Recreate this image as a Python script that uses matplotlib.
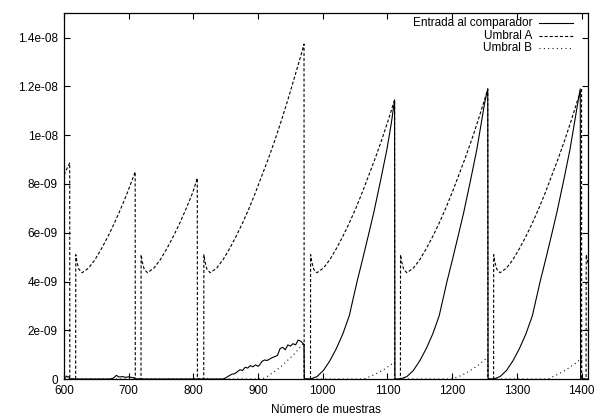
import matplotlib.pyplot as plt

plt.rcParams['font.family'] = ['Liberation Sans', 'DejaVu Sans']
plt.rcParams['font.size'] = 8.5

# values in units of 1e-9
entrada_x = [600, 602, 604, 606, 608, 609, 670, 676, 681, 685, 690, 695, 700, 705, 709, 710,
             845, 848, 852, 856, 860, 864, 868, 872, 876, 880, 884, 888, 892, 896, 900, 903,
             906, 910, 914, 918, 922, 926, 930, 934, 938, 942, 946, 950, 954, 958, 962, 966,
             971, 971.5,
             981, 991, 1001, 1011, 1021, 1031, 1041, 1053, 1061, 1071, 1079, 1089, 1099, 1106,
             1111, 1111.5,
             1120, 1130, 1140, 1150, 1160, 1170, 1180, 1192, 1200, 1210, 1218, 1228, 1238, 1245,
             1250, 1255, 1255.5,
             1264, 1274, 1284, 1294, 1304, 1314, 1324, 1336, 1344, 1354, 1362, 1372, 1382, 1389,
             1394, 1398, 1398.5, 1410]
entrada_y = [0.0, 0.05, 0.12, 0.08, 0.1, 0.0, 0.0, 0.03, 0.15, 0.08, 0.1, 0.07, 0.09, 0.06, 0.05, 0.0,
             0.0, 0.02, 0.08, 0.15, 0.2, 0.22, 0.3, 0.38, 0.35, 0.48, 0.45, 0.55, 0.5, 0.58, 0.52, 0.6,
             0.72, 0.78, 0.76, 0.82, 0.88, 0.92, 0.97, 1.25, 1.3, 1.2, 1.4, 1.35, 1.45, 1.4, 1.6, 1.55,
             1.42, 0.0,
             0.0, 0.1, 0.35, 0.75, 1.25, 1.85, 2.6, 4.0, 4.85, 5.95, 6.85, 8.1, 9.4, 10.5,
             11.45, 0.0,
             0.0, 0.1, 0.35, 0.75, 1.25, 1.85, 2.6, 4.0, 4.85, 5.95, 6.85, 8.1, 9.4, 10.5,
             11.3, 11.9, 0.0,
             0.0, 0.1, 0.35, 0.75, 1.25, 1.85, 2.6, 4.0, 4.85, 5.95, 6.85, 8.1, 9.4, 10.5,
             11.3, 11.9, 0.0, 0.0]

umbral_a_x = [600, 604, 608.8, 609, 618, 618.2,
              620, 623, 628, 638, 648, 658, 668, 678, 688, 698, 708, 710, 710.2, 719, 719.2,
              721, 724, 729, 739, 749, 759, 769, 779, 789, 799, 806, 806.2, 816, 816.2,
              818, 821, 826, 836, 846, 856, 866, 876, 886, 896, 906, 916, 926, 936, 946, 956, 966,
              971, 971.2, 981, 981.2,
              983, 986, 991, 1001, 1011, 1021, 1031, 1041, 1051, 1061, 1071, 1081, 1091, 1101,
              1111, 1111.2, 1120, 1120.2,
              1122, 1125, 1130, 1140, 1150, 1160, 1170, 1180, 1190, 1200, 1210, 1220, 1230, 1240,
              1250, 1255, 1255.2, 1264, 1264.2,
              1266, 1269, 1274, 1284, 1294, 1304, 1314, 1324, 1334, 1344, 1354, 1364, 1374, 1384,
              1394, 1400, 1400.2, 1407, 1407.2, 1410]
umbral_a_y = [8.37, 8.6, 8.86, 0.0, 0.0, 5.1,
              4.8, 4.5, 4.36, 4.55, 4.9, 5.35, 5.85, 6.4, 7.0, 7.65, 8.35, 8.5, 0.0, 0.0, 5.1,
              4.8, 4.5, 4.36, 4.55, 4.9, 5.35, 5.85, 6.4, 7.0, 7.65, 8.24, 0.0, 0.0, 5.1,
              4.8, 4.5, 4.36, 4.55, 4.9, 5.35, 5.85, 6.4, 7.0, 7.65, 8.35, 9.05, 9.8, 10.6, 11.45, 12.35, 13.25,
              13.74, 0.0, 0.0, 5.1,
              4.8, 4.5, 4.36, 4.55, 4.9, 5.35, 5.85, 6.4, 7.0, 7.65, 8.35, 9.05, 9.8, 10.6,
              11.45, 0.0, 0.0, 5.1,
              4.8, 4.5, 4.36, 4.55, 4.9, 5.35, 5.85, 6.4, 7.0, 7.65, 8.35, 9.05, 9.8, 10.6,
              11.45, 11.9, 0.0, 0.0, 5.1,
              4.8, 4.5, 4.36, 4.55, 4.9, 5.35, 5.85, 6.4, 7.0, 7.65, 8.35, 9.05, 9.8, 10.6,
              11.45, 11.9, 0.0, 0.0, 5.1, 4.75]

umbral_b_x = [600, 906, 915, 925, 935, 945, 955, 965, 971, 971.2,
              1063, 1075, 1085, 1095, 1105, 1111, 1111.2,
              1200, 1210, 1220, 1230, 1240, 1250, 1255, 1255.2,
              1348, 1360, 1370, 1380, 1390, 1400, 1400.2, 1410]
umbral_b_y = [0.0, 0.0, 0.12, 0.3, 0.5, 0.75, 1.0, 1.3, 1.5, 0.0,
              0.0, 0.12, 0.25, 0.4, 0.58, 0.7, 0.0,
              0.0, 0.1, 0.22, 0.38, 0.56, 0.78, 0.9, 0.0,
              0.0, 0.15, 0.28, 0.45, 0.63, 0.85, 0.0, 0.0]

yticks = [0, 2e-9, 4e-9, 6e-9, 8e-9, 1e-8, 1.2e-8, 1.4e-8]
ytick_labels = ['0', '2e-09', '4e-09', '6e-09', '8e-09', '1e-08', '1.2e-08', '1.4e-08']
xticks = [600, 700, 800, 900, 1000, 1100, 1200, 1300, 1400]

fig = plt.figure(figsize=(6.01, 4.17), dpi=100)
ax = fig.add_axes([0.1065, 0.0911, 0.8719, 0.8769])

sc = 1e-9
ax.plot(entrada_x, [v * sc for v in entrada_y], color='black', lw=0.8)
ax.plot(umbral_a_x, [v * sc for v in umbral_a_y], color='black', lw=0.8, dashes=(2.8, 1.8))
ax.plot(umbral_b_x, [v * sc for v in umbral_b_y], color='black', lw=0.8, dashes=(0.9, 3.0))

ax.set_xlim(600, 1410)
ax.set_ylim(0, 1.5e-8)
ax.set_xticks(xticks)
ax.set_yticks(yticks)
ax.set_yticklabels(ytick_labels)
ax.tick_params(direction='in', top=True, right=True, length=4, width=0.8, pad=4.5)
ax.tick_params(axis='x', pad=4)
for s in ax.spines.values():
    s.set_linewidth(0.9)
ax.set_xlabel('Número de muestras', labelpad=5)

# gnuplot style key, text right aligned
labels = ['Entrada al comparador', 'Umbral A', 'Umbral B']
styles = [dict(), dict(dashes=(2.8, 1.8)), dict(dashes=(0.9, 3.0))]
rows = [0.9735, 0.9393, 0.9051]
for lab, st, yy in zip(labels, styles, rows):
    ax.text(0.894, yy, lab, transform=ax.transAxes, ha='right', va='center')
    ax.plot([0.906, 0.971], [yy, yy], transform=ax.transAxes, color='black', lw=0.8, **st)

fig.savefig('out.png', dpi=100)
